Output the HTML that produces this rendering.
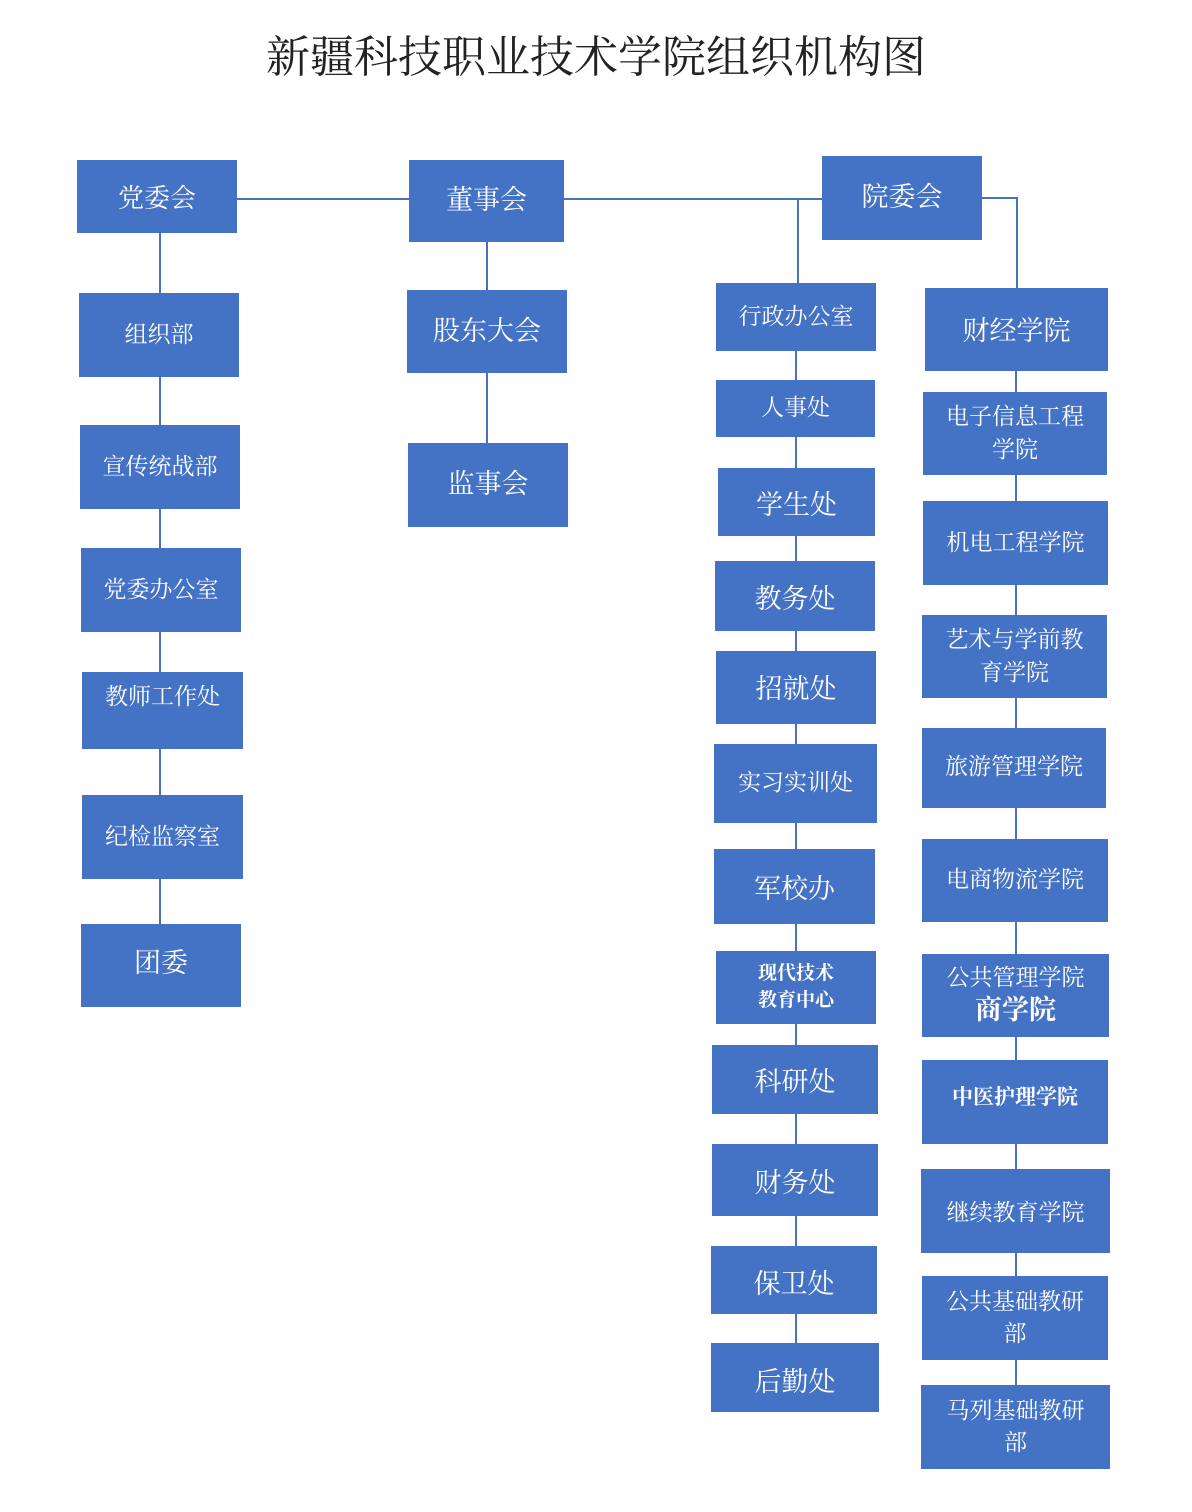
<!DOCTYPE html>
<html><head><meta charset="utf-8"><style>
body{margin:0;width:1192px;height:1512px;background:#fff;position:relative;overflow:hidden;font-family:"Liberation Serif","Noto Serif CJK SC",serif}
.t{position:absolute;left:0;width:1192px;top:30px;text-align:center;font-size:44px;color:#222;line-height:56px}
.b{position:absolute;background:#4472c4;color:#fff;display:flex;align-items:center;justify-content:center;text-align:center;font-size:23px;line-height:1.4;box-sizing:border-box}
.l{position:absolute;background:#4a72b8}
</style></head><body>
<div class="t">新疆科技职业技术学院组织机构图</div>
<div class="l" style="left:237px;top:198px;width:172px;height:2px"></div>
<div class="l" style="left:564px;top:198px;width:258px;height:2px"></div>
<div class="l" style="left:797px;top:198px;width:2px;height:86px"></div>
<div class="l" style="left:982px;top:197px;width:36px;height:2px"></div>
<div class="l" style="left:1016px;top:197px;width:2px;height:92px"></div>
<div class="l" style="left:159px;top:233px;width:2px;height:770px"></div>
<div class="l" style="left:486px;top:242px;width:2px;height:202px"></div>
<div class="l" style="left:795px;top:351px;width:2px;height:1000px"></div>
<div class="l" style="left:1015px;top:371px;width:2px;height:1020px"></div>

<div class="b" style="left:77px;top:160px;width:160px;height:73px;font-size:26px;padding-top:6px">党委会</div>
<div class="b" style="left:79px;top:293px;width:160px;height:84px">组织部</div>
<div class="b" style="left:80px;top:425px;width:160px;height:84px">宣传统战部</div>
<div class="b" style="left:81px;top:548px;width:160px;height:84px">党委办公室</div>
<div class="b" style="left:82px;top:672px;width:161px;height:77px;padding-bottom:26px">教师工作处</div>
<div class="b" style="left:82px;top:795px;width:161px;height:84px">纪检监察室</div>
<div class="b" style="left:81px;top:924px;width:160px;height:83px;font-size:27px;padding-bottom:4px">团委</div>

<div class="b" style="left:409px;top:160px;width:155px;height:82px;font-size:27px">董事会</div>
<div class="b" style="left:407px;top:290px;width:160px;height:83px;font-size:27px">股东大会</div>
<div class="b" style="left:408px;top:443px;width:160px;height:84px;font-size:27px">监事会</div>

<div class="b" style="left:822px;top:156px;width:160px;height:84px;font-size:27px">院委会</div>
<div class="b" style="left:716px;top:283px;width:160px;height:68px">行政办公室</div>
<div class="b" style="left:716px;top:380px;width:159px;height:57px">人事处</div>
<div class="b" style="left:718px;top:468px;width:157px;height:68px;font-size:27px;padding-top:8px">学生处</div>
<div class="b" style="left:715px;top:561px;width:160px;height:70px;font-size:27px;padding-top:8px">教务处</div>
<div class="b" style="left:716px;top:651px;width:160px;height:73px;font-size:27px;padding-top:4px">招就处</div>
<div class="b" style="left:714px;top:744px;width:163px;height:79px">实习实训处</div>
<div class="b" style="left:714px;top:849px;width:161px;height:75px;font-size:27px;padding-top:6px">军校办</div>
<div class="b" style="left:716px;top:951px;width:160px;height:73px;font-size:19px;font-weight:bold">现代技术<br>教育中心</div>
<div class="b" style="left:712px;top:1045px;width:166px;height:69px;font-size:27px;padding-top:6px">科研处</div>
<div class="b" style="left:712px;top:1144px;width:166px;height:72px;font-size:27px;padding-top:8px">财务处</div>
<div class="b" style="left:711px;top:1246px;width:166px;height:68px;font-size:27px;padding-top:10px">保卫处</div>
<div class="b" style="left:711px;top:1343px;width:168px;height:69px;font-size:27px;padding-top:10px">后勤处</div>

<div class="b" style="left:925px;top:288px;width:183px;height:83px;font-size:27px;padding-top:4px">财经学院</div>
<div class="b" style="left:923px;top:392px;width:184px;height:83px">电子信息工程<br>学院</div>
<div class="b" style="left:923px;top:501px;width:185px;height:84px">机电工程学院</div>
<div class="b" style="left:922px;top:615px;width:185px;height:83px">艺术与学前教<br>育学院</div>
<div class="b" style="left:922px;top:728px;width:184px;height:80px;padding-bottom:2px">旅游管理学院</div>
<div class="b" style="left:922px;top:839px;width:186px;height:83px">电商物流学院</div>
<div class="b" style="left:922px;top:954px;width:187px;height:83px"><div style="line-height:1.3">公共管理学院<br><span style="font-size:27px;font-weight:bold">商学院</span></div></div>
<div class="b" style="left:922px;top:1060px;width:186px;height:84px;font-size:21px;font-weight:bold;padding-bottom:8px">中医护理学院</div>
<div class="b" style="left:921px;top:1169px;width:189px;height:84px;padding-top:4px">继续教育学院</div>
<div class="b" style="left:922px;top:1276px;width:186px;height:84px">公共基础教研<br>部</div>
<div class="b" style="left:921px;top:1385px;width:189px;height:84px">马列基础教研<br>部</div>
</body></html>
